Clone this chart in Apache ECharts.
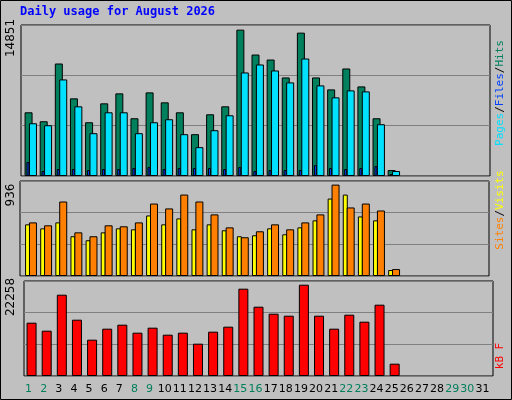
<!DOCTYPE html><html><head><meta charset="utf-8">
<script src="https://cdn.jsdelivr.net/npm/echarts@6/dist/echarts.min.js"></script>
<style>html,body{margin:0;padding:0;background:#c0c0c0}#c{width:512px;height:400px}</style></head><body><div id="c"></div><script>
const days=[];for(let i=1;i<=31;i++)days.push(String(i));
const weekend=[1,2,8,9,15,16,22,23,29,30];
const hits=[6465,5556,11414,7879,5455,7374,8384,5859,8485,7475,6465,4243,6263,7071,14851,12324,11819,10001,14547,10001,8788,10910,9091,5859,606];
const files=[5354,5152,9799,7071,4344,6465,6465,4344,5455,5758,4243,2929,4647,6162,10506,11314,10708,9496,11920,9193,7980,8688,8586,5253,505];
const pages=[1414,505,707,707,606,707,707,808,909,707,808,808,808,707,909,505,606,606,606,1111,808,707,808,1010,202];
const sites=[529,488,549,407,366,447,488,478,620,529,590,478,529,468,407,417,488,427,498,570,793,834,610,570,61];
const visits=[549,519,763,447,407,519,509,549,742,692,834,763,631,498,397,458,529,478,549,631,936,702,742,671,71];
const kbytes=[12992,11043,19813,13723,8851,11530,12505,10556,11774,10069,10556,7876,10800,12018,21274,16890,15184,14697,22249,14697,11530,14941,13236,17377,3004];
const maxLabels=["14851","936","22258"];
const panels=[{top:25,h:151,max:15322},{top:181,h:95,max:973},{top:281,h:95,max:23151}];
const L=21,R=22;
const grids=[],xs=[],ys=[],series=[];
function add(p,shift,data,color,w,z,showGrid){
  const i=grids.length;
  grids.push({left:L+shift,right:R-shift,top:panels[p].top,height:panels[p].h,show:showGrid,backgroundColor:'#c0c0c0',borderColor:'#000',borderWidth:showGrid?1:0});
  xs.push({gridIndex:i,type:'category',data:days,axisLine:{show:false},axisTick:{show:false},axisLabel:{show:false}});
  ys.push({gridIndex:i,type:'value',min:0,max:panels[p].max,interval:panels[p].max/3,axisLine:{show:false},axisTick:{show:false},axisLabel:{show:false},splitLine:{show:showGrid,lineStyle:{color:'#808080',width:1}}});
  series.push({type:'bar',xAxisIndex:i,yAxisIndex:i,data:data,barWidth:w,z:z,itemStyle:{color:color,borderColor:'#000',borderWidth:1},animation:false});
}
add(0,0,hits,'#00805c',8,2,true);
add(0,4.4,files,'#00e0ff',8,3,false);
add(0,-0.6,pages,'#0040ff',3,4,false);
add(1,-1,sites,'#ffff00',5,2,true);
add(1,4.4,visits,'#ff8000',8,3,false);
add(2,3,kbytes,'#ff0000',10,2,true);
// label axis
grids.push({left:L,right:R,top:376,height:1,show:false});
const li=grids.length-1;
xs.push({gridIndex:li,type:'category',data:days,axisLine:{show:false},axisTick:{show:false},
  axisLabel:{show:true,interval:0,margin:7,fontFamily:'DejaVu Sans',fontSize:11,color:(v)=>weekend.includes(+v)?'#00805c':'#000'}});
ys.push({gridIndex:li,type:'value',show:false});
const chart=echarts.init(document.getElementById('c'),null,{renderer:'canvas'});
const mono='DejaVu Sans Mono';
chart.setOption({backgroundColor:'#c0c0c0',animation:false,grid:grids,xAxis:xs,yAxis:ys,series:series,
graphic:[
 {type:'rect',shape:{x:0.5,y:0.5,width:511,height:399},style:{fill:null,stroke:'#000',lineWidth:1},z:0},
 {type:'text',left:20,top:6,style:{text:'Daily usage for August 2026',font:'bold 12px '+mono,fill:'#0000ff'}},
 {type:'text',x:11,y:38,rotation:Math.PI/2,style:{text:maxLabels[0],font:'12px DejaVu Sans',fill:'#000',align:'center',verticalAlign:'middle'}},
 {type:'text',x:11,y:195,rotation:Math.PI/2,style:{text:maxLabels[1],font:'12px DejaVu Sans',fill:'#000',align:'center',verticalAlign:'middle'}},
 {type:'text',x:11,y:297,rotation:Math.PI/2,style:{text:maxLabels[2],font:'12px DejaVu Sans',fill:'#000',align:'center',verticalAlign:'middle'}},
 {type:'text',x:500,y:93,rotation:Math.PI/2,style:{text:'{a|Pages}{s|/}{b|Files}{s|/}{c|Hits}',align:'center',verticalAlign:'middle',font:'11px '+mono,
   rich:{a:{fill:'#00e0ff',font:'11px '+mono},b:{fill:'#0040ff',font:'11px '+mono},c:{fill:'#00805c',font:'11px '+mono},s:{fill:'#000',font:'11px '+mono}}}},
 {type:'text',x:500,y:210,rotation:Math.PI/2,style:{text:'{a|Sites}{s|/}{b|Visits}',align:'center',verticalAlign:'middle',font:'11px '+mono,
   rich:{a:{fill:'#ff8000',font:'11px '+mono},b:{fill:'#ffff00',font:'11px '+mono},s:{fill:'#000',font:'11px '+mono}}}},
 {type:'text',x:500,y:356,rotation:Math.PI/2,style:{text:'kB F',align:'center',verticalAlign:'middle',font:'11px '+mono,fill:'#ff0000'}}
]});
</script></body></html>
